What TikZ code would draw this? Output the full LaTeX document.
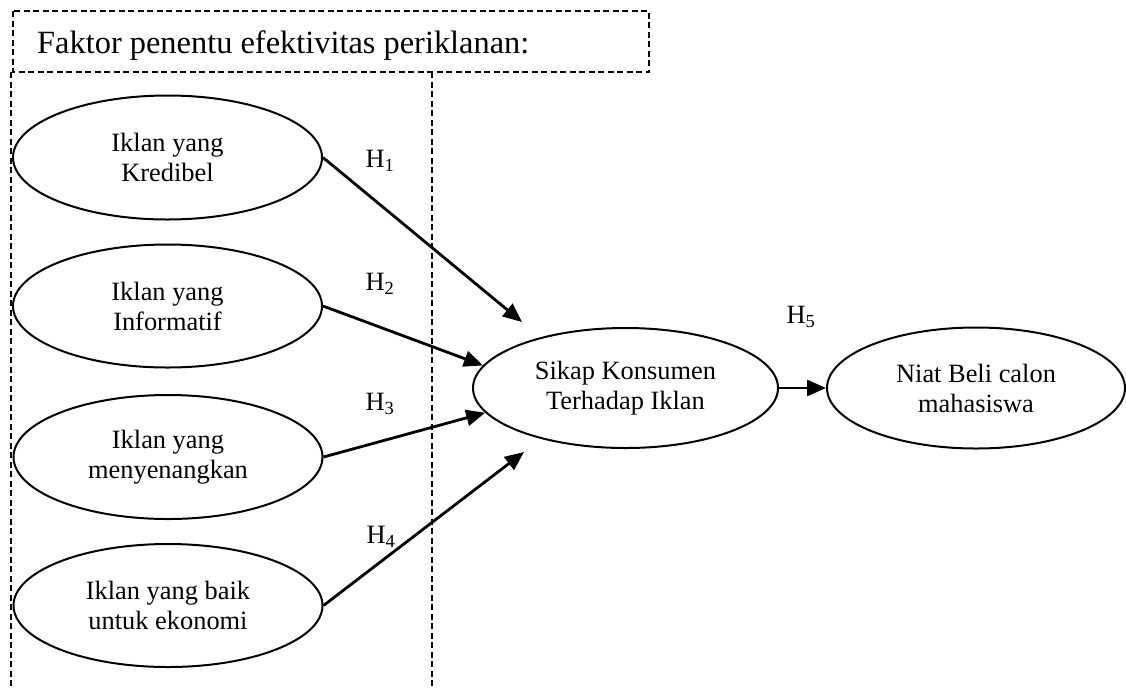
\documentclass[tikz,border=0pt]{standalone}
\usepackage{fontspec}
\setmainfont{Liberation Serif}
\usetikzlibrary{shapes.geometric,arrows.meta}
\tikzset{
  oval/.style={ellipse, draw, line width=2pt, inner sep=0pt, align=center,
    font=\fontsize{26.4}{30}\selectfont},
  dashline/.style={line width=1.8pt, dash pattern=on 6pt off 3.5pt},
  hyparrow/.style={line width=2.8pt, -{Triangle[length=19pt,width=16pt]}},
  hlabel/.style={inner sep=0pt, font=\fontsize{26.4}{30}\selectfont},
}
\begin{document}
\begin{tikzpicture}[x=1pt,y=-1pt]
\useasboundingbox (0,0) rectangle (1126,689);
% dashed frames
\draw[dashline] (13,11) rectangle (649,72);
\node[anchor=base west, inner sep=0pt, font=\fontsize{32.4}{36}\selectfont] (title) at (37,53) {Faktor penentu efektivitas periklanan:};
\draw[dashline] (11,72) -- (11,689);
\draw[dashline] (432,72) -- (432,689);
% ellipses
\node[oval, minimum width=309pt, minimum height=124pt] (e1) at (167.5,157.5) {Iklan yang\\Kredibel};
\node[oval, minimum width=309pt, minimum height=123pt] (e2) at (167.5,306) {Iklan yang\\Informatif};
\node[oval, minimum width=309pt, minimum height=124pt] (e3) at (168,457) {Iklan yang\\menyenangkan};
\node[oval, minimum width=309pt, minimum height=123pt] (e4) at (168,605.5) {Iklan yang baik\\untuk ekonomi};
\node[oval, minimum width=305pt, minimum height=120pt] (sikap) at (625.5,388) {Sikap Konsumen\\Terhadap Iklan};
\node[oval, minimum width=298pt, minimum height=121pt] (niat) at (976,388) {Niat Beli calon\\mahasiswa};
% arrow ends
\coordinate (t1) at (522,322);
\coordinate (t4) at (524,452);
% arrows
\draw[hyparrow] (e1.east) -- (t1);
\draw[hyparrow] (e2.east) -- (sikap.171);
\draw[hyparrow] (e3.east) -- (sikap.190);
\draw[hyparrow] (e4.east) -- (t4);
\draw[hyparrow] (sikap.east) -- (niat.west);
% labels
\node[hlabel] (h1) at (380,161) {H\textsubscript{1}};
\node[hlabel] (h2) at (380,284) {H\textsubscript{2}};
\node[hlabel] (h3) at (380,404) {H\textsubscript{3}};
\node[hlabel] (h4) at (381,537) {H\textsubscript{4}};
\node[hlabel] (h5) at (801,317) {H\textsubscript{5}};
\end{tikzpicture}
\end{document}
